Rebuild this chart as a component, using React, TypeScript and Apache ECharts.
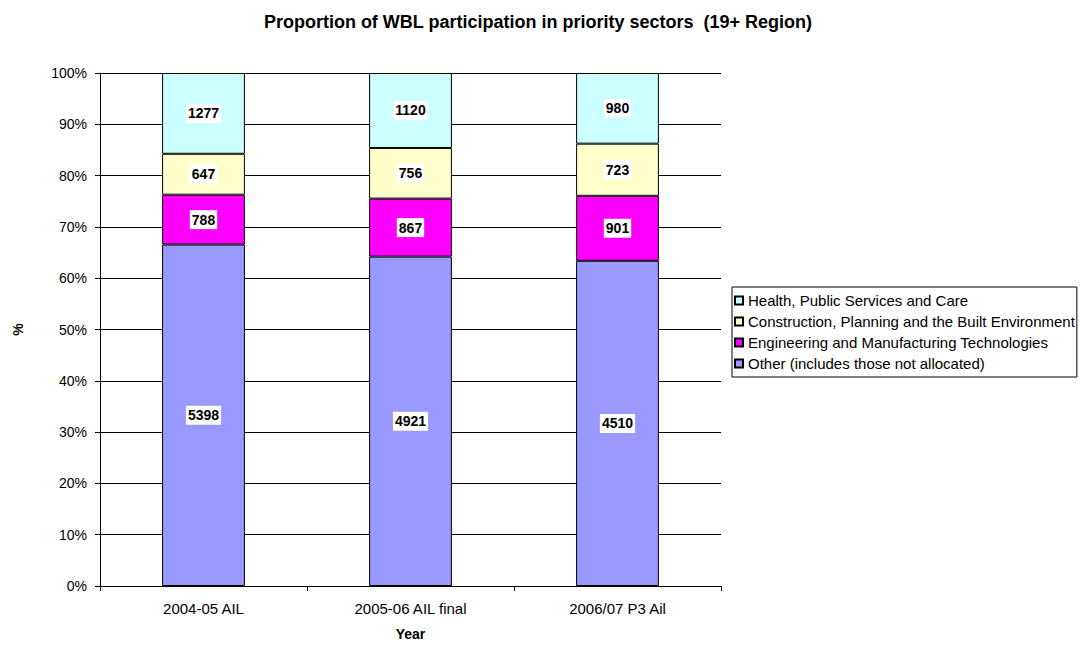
import React, { useEffect, useRef } from "react";
import * as echarts from "echarts";

const categories = ["2004-05 AIL", "2005-06 AIL final", "2006/07 P3 Ail"];
const other = [5398, 4921, 4510];
const engineering = [788, 867, 901];
const construction = [647, 756, 723];
const health = [1277, 1120, 980];
const yTicks = [0, 10, 20, 30, 40, 50, 60, 70, 80, 90, 100];

const seriesDefs = [
  { name: "Other (includes those not allocated)", data: other, color: "#9999FF" },
  { name: "Engineering and Manufacturing Technologies", data: engineering, color: "#FF00FF" },
  { name: "Construction, Planning and the Built Environment", data: construction, color: "#FFFFCC" },
  { name: "Health, Public Services and Care", data: health, color: "#CCFFFF" },
];

const FONT = "Liberation Sans, Arial, sans-serif";

export default function App() {
  const ref = useRef<HTMLDivElement>(null);
  useEffect(() => {
    document.body.style.margin = "0";
    document.body.style.overflow = "hidden";
    document.documentElement.style.overflow = "hidden";
    if (!ref.current) return;
    const chart = echarts.init(ref.current, null, { renderer: "svg" });
    const totals = categories.map((_, i) =>
      seriesDefs.reduce((s, d) => s + d.data[i], 0)
    );
    chart.setOption({
      animation: false,
      textStyle: { fontFamily: FONT },
      title: {
        text: "Proportion of WBL participation in priority sectors  (19+ Region)",
        left: 538,
        textAlign: "center",
        top: 13,
        padding: 0,
        textStyle: { fontSize: 18, fontWeight: "bold", color: "#000", fontFamily: FONT },
      },
      grid: { left: 100, top: 73, width: 621, height: 516, containLabel: false },
      legend: {
        orient: "vertical",
        left: 732,
        top: 287,
        data: [...seriesDefs].reverse().map((d) => d.name),
        itemWidth: 8,
        itemHeight: 8,
        itemGap: 4,
        borderColor: "#000",
        borderWidth: 1,
        borderRadius: 0,
        padding: [5, 2, 5, 2],
        textStyle: { fontSize: 15, color: "#000", fontFamily: FONT, lineHeight: 17 },
        icon: "rect",
      },
      xAxis: {
        type: "category",
        data: categories,
        name: "Year",
        nameLocation: "middle",
        nameGap: 41,
        nameTextStyle: { fontSize: 14, fontWeight: "bold", color: "#000" },
        axisLine: { lineStyle: { color: "#000", width: 1 } },
        axisTick: { show: true, alignWithLabel: false, length: 5, lineStyle: { color: "#000" } },
        axisLabel: { fontSize: 15, color: "#000", margin: 15 },
      },
      yAxis: {
        type: "value",
        min: 0,
        max: 100,
        interval: 10,
        name: "%",
        nameLocation: "middle",
        nameGap: 75,
        nameTextStyle: { fontSize: 14, fontWeight: "bold", color: "#000" },
        axisLine: { show: true, lineStyle: { color: "#000", width: 1 } },
        axisTick: { show: true, length: 5, inside: false, lineStyle: { color: "#000" } },
        axisLabel: {
          fontSize: 14,
          color: "#000",
          margin: 13,
          formatter: (v: number) => (yTicks.includes(v) ? v + "%" : ""),
        },
        splitLine: { show: true, lineStyle: { color: "#000", width: 1 } },
      },
      series: seriesDefs.map((d) => ({
        name: d.name,
        type: "bar",
        stack: "total",
        barWidth: "40%",
        data: d.data.map((v, i) => (v / totals[i]) * 100),
        itemStyle: { color: d.color, borderColor: "#000", borderWidth: 1 },
        label: {
          show: true,
          position: "inside",
          formatter: (p: any) => String(d.data[p.dataIndex]),
          fontSize: 14,
          fontWeight: "bold",
          color: "#000",
          backgroundColor: "#fff",
          padding: [3, 2, 2, 2],
          fontFamily: FONT,
        },
      })),
    });
    return () => chart.dispose();
  }, []);
  return (
    <div
      ref={ref}
      style={{ width: 1080, height: 646, position: "absolute", left: 0, top: 0, overflow: "hidden" }}
    />
  );
}
